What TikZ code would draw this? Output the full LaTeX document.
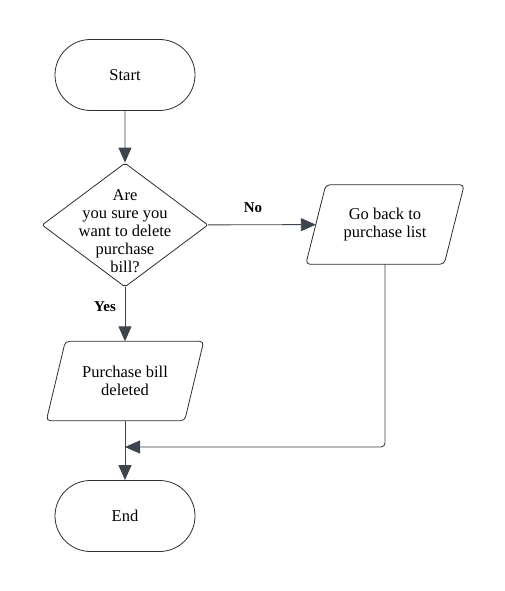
\documentclass[tikz,border=0pt]{standalone}
\usepackage{fontspec}
\setmainfont{Liberation Serif}
\usetikzlibrary{arrows.meta,shapes.geometric,shapes.misc}
\definecolor{linec}{RGB}{62,68,78}
\definecolor{shapec}{RGB}{45,45,50}
\begin{document}
\begin{tikzpicture}[x=1pt,y=-1pt,
  shapeline/.style={draw=shapec, line width=0.8pt},
  term/.style={shapeline, rounded rectangle, minimum width=140pt, minimum height=71pt, inner sep=0pt, font=\fontsize{16.5}{18}\selectfont},
  dec/.style={shapeline, diamond, minimum width=166pt, minimum height=124pt, inner sep=0pt, rounded corners=2pt},
  txt/.style={align=center, font=\fontsize{16.5}{18}\selectfont, inner sep=0pt},
  io/.style={minimum width=138pt, minimum height=79pt, inner sep=0pt, align=center, font=\fontsize{16.5}{18}\selectfont},
  para/.style={shapeline, rounded corners=4pt},
  conn/.style={draw=linec, line width=0.9pt},
  arr/.style={conn, -{Triangle[length=15pt,width=13pt,fill=linec]}},
  lbl/.style={font=\bfseries\fontsize{15}{18}\selectfont, inner sep=0pt}
]
\useasboundingbox[fill=white] (0,0) rectangle (505,591);

\node[term] (start) at (125,75) {Start};
\node[dec] (q) at (125,225) {};
\node[txt] (qt) at (125,231) {Are\\you sure you\\want to delete\\purchase\\bill?};
\node[io] (gb) at (385,224.5) {Go back to\\purchase list};
\draw[para] ([xshift=10pt]gb.north west) -- ([xshift=10pt]gb.north east) -- ([xshift=-10pt]gb.south east) -- ([xshift=-10pt]gb.south west) -- cycle;
\node[io] (pb) at (125,381) {Purchase bill\\deleted};
\draw[para] ([xshift=9.5pt]pb.north west) -- ([xshift=9.5pt]pb.north east) -- ([xshift=-9.5pt]pb.south east) -- ([xshift=-9.5pt]pb.south west) -- cycle;
\node[term] (end) at (125,516) {End};
\coordinate (m) at (125,447);

\draw[arr] (start) -- (q);
\draw[arr] (q) -- (gb);
\node[lbl] (no) at (253,208) {No};
\draw[arr] (q) -- (pb);
\node[lbl] (yes) at (105,307) {Yes};
\draw[arr] (pb) -- (end);
\draw[arr, rounded corners=4pt] (gb.south) |- (m);
\end{tikzpicture}
\end{document}
